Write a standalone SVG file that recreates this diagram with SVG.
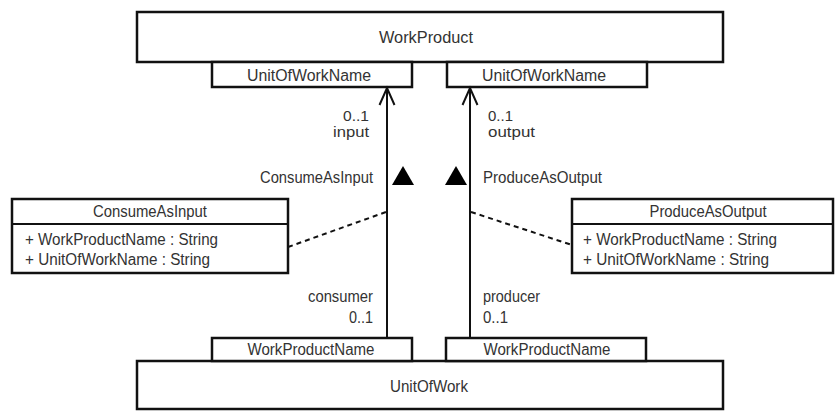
<svg xmlns="http://www.w3.org/2000/svg" width="835" height="411" viewBox="0 0 835 411">
  <style>
    .box { fill: #ffffff; stroke: #111111; stroke-width: 2.5; }
    .line { fill: none; stroke: #111111; stroke-width: 2; }
    .head { fill: none; stroke: #111111; stroke-width: 2; stroke-linejoin: miter; }
    .dash { fill: none; stroke: #111111; stroke-width: 2; stroke-dasharray: 5 4; }
    .tri { fill: #000000; }
    text { font-family: "Liberation Sans", Arial, sans-serif; font-size: 16px; fill: #333333; }
    .small { font-size: 14px; }
    .c { text-anchor: middle; }
    .e { text-anchor: end; }
  </style>

  <rect width="835" height="411" fill="#ffffff"/>

  <!-- class WorkProduct with its two qualifiers -->
  <g id="WorkProduct">
    <rect class="box" x="137" y="12" width="586" height="50"/>
    <text class="c" x="426" y="43" textLength="94" lengthAdjust="spacingAndGlyphs">WorkProduct</text>
  </g>
  <g id="WorkProduct-qualifier-input">
    <rect class="box" x="212" y="62" width="200" height="25"/>
    <text class="c" x="309" y="81" textLength="124" lengthAdjust="spacingAndGlyphs">UnitOfWorkName</text>
  </g>
  <g id="WorkProduct-qualifier-output">
    <rect class="box" x="447" y="62" width="200" height="25"/>
    <text class="c" x="544" y="81" textLength="124" lengthAdjust="spacingAndGlyphs">UnitOfWorkName</text>
  </g>

  <!-- class UnitOfWork with its two qualifiers -->
  <g id="UnitOfWork">
    <rect class="box" x="137" y="361" width="586" height="48"/>
    <text class="c" x="429" y="392" textLength="78" lengthAdjust="spacingAndGlyphs">UnitOfWork</text>
  </g>
  <g id="UnitOfWork-qualifier-consumer">
    <rect class="box" x="212" y="338" width="200" height="23"/>
    <text class="c" x="311" y="355" textLength="127" lengthAdjust="spacingAndGlyphs">WorkProductName</text>
  </g>
  <g id="UnitOfWork-qualifier-producer">
    <rect class="box" x="446" y="338" width="200" height="23"/>
    <text class="c" x="547" y="355" textLength="127" lengthAdjust="spacingAndGlyphs">WorkProductName</text>
  </g>

  <!-- association classes -->
  <g id="ConsumeAsInput">
    <rect class="box" x="12" y="199" width="276" height="74"/>
    <line class="line" x1="12" y1="224" x2="288" y2="224"/>
    <text class="c" x="150" y="217" textLength="114" lengthAdjust="spacingAndGlyphs">ConsumeAsInput</text>
    <text x="25" y="245" textLength="193" lengthAdjust="spacingAndGlyphs">+ WorkProductName : String</text>
    <text x="25" y="265" textLength="185" lengthAdjust="spacingAndGlyphs">+ UnitOfWorkName : String</text>
  </g>
  <g id="ProduceAsOutput">
    <rect class="box" x="572" y="199" width="261" height="74"/>
    <line class="line" x1="572" y1="224" x2="833" y2="224"/>
    <text class="c" x="708" y="217" textLength="117" lengthAdjust="spacingAndGlyphs">ProduceAsOutput</text>
    <text x="583" y="245" textLength="194" lengthAdjust="spacingAndGlyphs">+ WorkProductName : String</text>
    <text x="583" y="265" textLength="186" lengthAdjust="spacingAndGlyphs">+ UnitOfWorkName : String</text>
  </g>

  <!-- associations, association-class links and end labels -->
  <g id="connectors">
    <line class="line" x1="387" y1="338" x2="387" y2="88"/>
    <path class="head" d="M379.5,105 L387,88 L394.5,105"/>
    <line class="line" x1="470" y1="338" x2="470" y2="88"/>
    <path class="head" d="M462.5,105 L470,88 L477.5,105"/>
    <line class="dash" x1="288" y1="247" x2="386" y2="212"/>
    <line class="dash" x1="471" y1="212" x2="572" y2="245"/>
    <polygon class="tri" points="403,166 414,185 392,185"/>
    <polygon class="tri" points="456,166 467,185 445,185"/>

    <text class="e small" x="369" y="121" textLength="26" lengthAdjust="spacingAndGlyphs">0..1</text>
    <text class="e small" x="369" y="137" textLength="36" lengthAdjust="spacingAndGlyphs">input</text>
    <text class="e" x="373" y="183" textLength="113" lengthAdjust="spacingAndGlyphs">ConsumeAsInput</text>
    <text class="e" x="373" y="302" textLength="65" lengthAdjust="spacingAndGlyphs">consumer</text>
    <text class="e" x="373" y="323" textLength="24" lengthAdjust="spacingAndGlyphs">0..1</text>

    <text class="small" x="488" y="121" textLength="25" lengthAdjust="spacingAndGlyphs">0..1</text>
    <text class="small" x="488" y="137" textLength="47" lengthAdjust="spacingAndGlyphs">output</text>
    <text x="483" y="183" textLength="119" lengthAdjust="spacingAndGlyphs">ProduceAsOutput</text>
    <text x="483" y="302" textLength="57" lengthAdjust="spacingAndGlyphs">producer</text>
    <text x="483" y="323" textLength="25" lengthAdjust="spacingAndGlyphs">0..1</text>
  </g>
</svg>
